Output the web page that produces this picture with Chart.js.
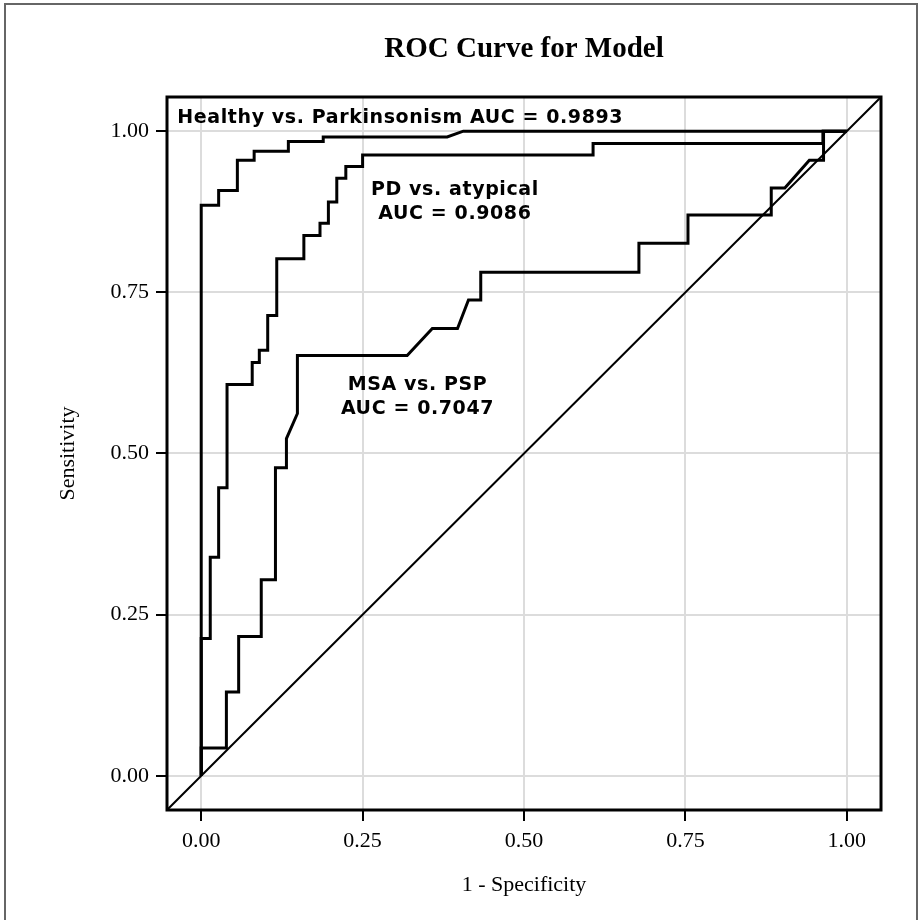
<!DOCTYPE html>
<html>
<head>
<meta charset="utf-8">
<script src="https://cdn.jsdelivr.net/npm/chart.js@4.4.1/dist/chart.umd.min.js"></script>
<style>
  html, body { margin: 0; padding: 0; background: #fff; }
  #wrap { width: 921px; height: 920px; }
</style>
</head>
<body>
<div id="wrap"><canvas id="c" width="921" height="920"></canvas></div>
<script>
// ---- data ----
const titleText = "ROC Curve for Model";
const xTitle = "1 - Specificity";
const yTitle = "Sensitivity";
const tickValues = [0, 0.25, 0.5, 0.75, 1];
const axisMin = -0.053;
const axisMax = 1.053;

// Healthy vs. Parkinsonism
const healthyFpr  = [0, 0, 0.027, 0.027, 0.056, 0.056, 0.082, 0.082, 0.135, 0.135, 0.189, 0.189, 0.381, 0.406, 1.0];
const healthySens = [0, 0.885, 0.885, 0.908, 0.908, 0.955, 0.955, 0.969, 0.969, 0.984, 0.984, 0.991, 0.991, 1.0, 1.0];

// PD vs. atypical
const pdFpr  = [0, 0, 0.014, 0.014, 0.027, 0.027, 0.040, 0.040, 0.079, 0.079, 0.090, 0.090, 0.103, 0.103, 0.117, 0.117, 0.159, 0.159, 0.184, 0.184, 0.197, 0.197, 0.210, 0.210, 0.224, 0.224, 0.250, 0.250, 0.607, 0.607, 0.963, 0.963, 1.0];
const pdSens = [0, 0.213, 0.213, 0.339, 0.339, 0.447, 0.447, 0.607, 0.607, 0.641, 0.641, 0.660, 0.660, 0.714, 0.714, 0.802, 0.802, 0.838, 0.838, 0.857, 0.857, 0.890, 0.890, 0.927, 0.927, 0.945, 0.945, 0.963, 0.963, 0.981, 0.981, 1.0, 1.0];

// MSA vs. PSP
const msaFpr  = [0, 0, 0.039, 0.039, 0.058, 0.058, 0.093, 0.093, 0.115, 0.115, 0.132, 0.132, 0.149, 0.149, 0.319, 0.358, 0.397, 0.414, 0.433, 0.433, 0.678, 0.678, 0.754, 0.754, 0.883, 0.883, 0.904, 0.942, 0.964, 0.964, 1.0];
const msaSens = [0, 0.043, 0.043, 0.130, 0.130, 0.216, 0.216, 0.304, 0.304, 0.478, 0.478, 0.523, 0.562, 0.652, 0.652, 0.694, 0.694, 0.738, 0.738, 0.781, 0.781, 0.826, 0.826, 0.870, 0.870, 0.912, 0.912, 0.955, 0.955, 1.0, 1.0];

// chance line (y = x) across the whole plot
const refX = [axisMin, axisMax];
const refY = [axisMin, axisMax];

// annotation labels: text lines and anchor (data coords)
const labelHealthy = { lines: ["Healthy vs. Parkinsonism AUC = 0.9893"], x: -0.037, y: 1.021, align: "left" };
const labelPD = { lines: ["PD vs. atypical", "AUC = 0.9086"], x: 0.393, y: 0.908, align: "center" };
const labelMSA = { lines: ["MSA vs. PSP", "AUC = 0.7047"], x: 0.335, y: 0.606, align: "center" };

function pts(xs, ys) { return xs.map((x, i) => ({ x: x, y: ys[i] })); }

const serif = "'Liberation Serif', 'DejaVu Serif', serif";
const annFont = "bold 19px 'DejaVu Sans', sans-serif";

const decor = {
  id: 'decor',
  afterDatasetsDraw(chart) {
    const ctx = chart.ctx;
    const a = chart.chartArea;
    const xs = chart.scales.x, ys = chart.scales.y;
    ctx.save();
    // frame
    ctx.strokeStyle = '#000';
    ctx.lineWidth = 3;
    ctx.strokeRect(a.left, a.top, a.right - a.left, a.bottom - a.top);
    // annotations
    ctx.fillStyle = '#000';
    ctx.font = annFont;
    ctx.letterSpacing = '0.6px';
    ctx.textBaseline = 'middle';
    [labelHealthy, labelPD, labelMSA].forEach(l => {
      ctx.textAlign = l.align;
      const px = xs.getPixelForValue(l.x);
      const py = ys.getPixelForValue(l.y);
      l.lines.forEach((t, i) => ctx.fillText(t, px, py + i * 24));
    });
    ctx.restore();
  },
  afterDraw(chart) {
    const ctx = chart.ctx;
    const a = chart.chartArea;
    ctx.save();
    // outer page border
    ctx.strokeStyle = '#666';
    ctx.lineWidth = 2;
    ctx.beginPath();
    ctx.moveTo(5, 920); ctx.lineTo(5, 4); ctx.lineTo(917, 4); ctx.lineTo(917, 920);
    ctx.stroke();
    // title
    ctx.fillStyle = '#000';
    ctx.textAlign = 'center';
    ctx.textBaseline = 'middle';
    ctx.font = "bold 29px " + serif;
    ctx.fillText(titleText, (a.left + a.right) / 2, 50);
    // axis titles
    ctx.font = "22px " + serif;
    ctx.fillText(xTitle, (a.left + a.right) / 2, 885);
    ctx.translate(68, (a.top + a.bottom) / 2);
    ctx.rotate(-Math.PI / 2);
    ctx.fillText(yTitle, 0, 0);
    ctx.restore();
  }
};

const lineDs = (label, data, w) => ({
  label: label, data: data, showLine: true, borderColor: '#000', backgroundColor: '#000',
  borderWidth: w, pointRadius: 0, pointHoverRadius: 0, tension: 0, fill: false
});

const axisCommon = (fit) => ({
  type: 'linear', min: axisMin, max: axisMax,
  afterBuildTicks: s => { s.ticks = tickValues.map(v => ({ value: v })); },
  afterFit: fit,
  ticks: { callback: v => Number(v).toFixed(2), color: '#000', font: { family: serif, size: 22 }, padding: 7, maxRotation: 0, autoSkip: false },
  grid: { color: '#dcdcdc', lineWidth: 2, tickColor: '#000', tickLength: 11, tickWidth: 2, drawOnChartArea: true },
  border: { display: false }
});

new Chart(document.getElementById('c'), {
  type: 'scatter',
  data: {
    datasets: [
      lineDs('Reference', pts(refX, refY), 2),
      lineDs('Healthy vs. Parkinsonism', pts(healthyFpr, healthySens), 3),
      lineDs('PD vs. atypical', pts(pdFpr, pdSens), 3),
      lineDs('MSA vs. PSP', pts(msaFpr, msaSens), 3)
    ]
  },
  options: {
    responsive: false,
    animation: false,
    devicePixelRatio: 1,
    layout: { padding: { top: 97, right: 40, left: 0, bottom: 0 } },
    plugins: { legend: { display: false }, tooltip: { enabled: false }, title: { display: false } },
    scales: {
      x: axisCommon(s => { s.height = 110; }),
      y: axisCommon(s => { s.width = 167; })
    }
  },
  plugins: [decor, {
    id: 'bg',
    beforeDraw(chart) { const c = chart.ctx; c.save(); c.fillStyle = '#fff'; c.fillRect(0, 0, chart.width, chart.height); c.restore(); }
  }]
});
</script>
</body>
</html>
